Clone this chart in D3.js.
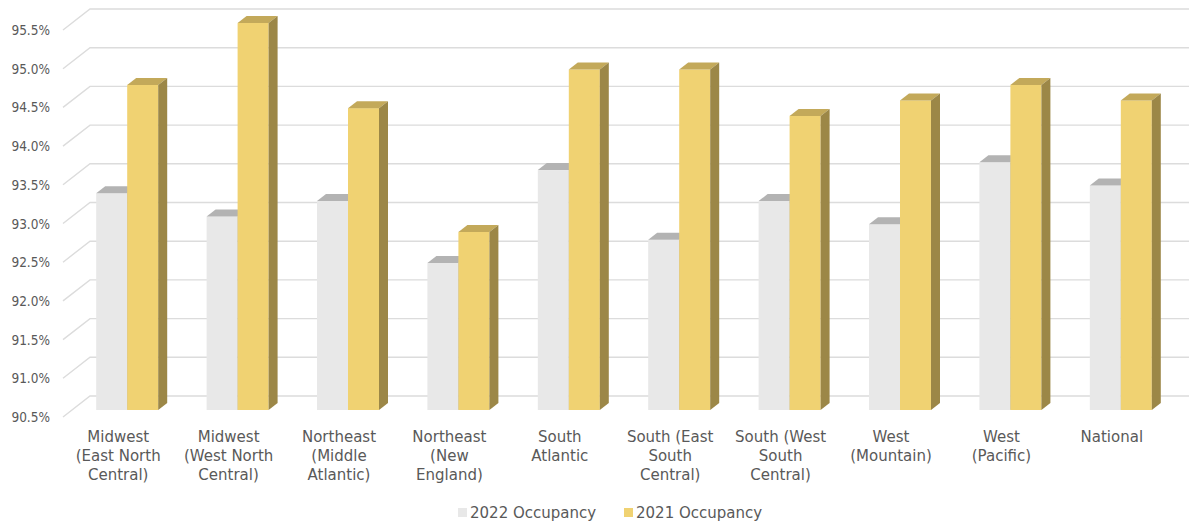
<!DOCTYPE html>
<html>
<head>
<meta charset="utf-8">
<script src="https://cdn.jsdelivr.net/npm/d3@7"></script>
<style>
  body { margin: 0; background: #fff; }
  text { font-family: "DejaVu Sans", sans-serif; fill: #595959; }
</style>
</head>
<body>
<script>
// data
const categories = [
  "Midwest\n(East North\nCentral)",
  "Midwest\n(West North\nCentral)",
  "Northeast\n(Middle\nAtlantic)",
  "Northeast\n(New\nEngland)",
  "South\nAtlantic",
  "South (East\nSouth\nCentral)",
  "South (West\nSouth\nCentral)",
  "West\n(Mountain)",
  "West\n(Pacific)",
  "National"
];
const occ2022 = [93.3, 93.0, 93.2, 92.4, 93.6, 92.7, 93.2, 92.9, 93.7, 93.4];
const occ2021 = [94.7, 95.5, 94.4, 92.8, 94.9, 94.9, 94.3, 94.5, 94.7, 94.5];
const seriesNames = ["2022 Occupancy", "2021 Occupancy"];
const yTicks = [90.5, 91.0, 91.5, 92.0, 92.5, 93.0, 93.5, 94.0, 94.5, 95.0, 95.5];

const W = 1189, H = 523;
const DX = 27, DY = 21; // 3d depth of the floor

const svg = d3.select("body").append("svg").attr("width", W).attr("height", H);

// front plane scales
const x = d3.scaleBand().domain(d3.range(categories.length)).range([63, 63 + 110.4 * categories.length]);
const y = d3.scaleLinear().domain([90.5, 95.5]).range([417, 30]);
const xs = d3.scaleBand().domain([0, 1]).range([0, 62]);

// gridlines (floor slant + back wall)
svg.append("g").selectAll("path").data(yTicks).join("path")
  .attr("d", d => `M63,${y(d)}L${63 + DX},${y(d) - DY}L${W},${y(d) - DY}`)
  .attr("fill", "none").attr("stroke", "#dcdcdc").attr("stroke-width", 1.4);

// y tick labels
svg.append("g").selectAll("text").data(yTicks).join("text")
  .attr("x", 50).attr("y", d => y(d) + 5)
  .attr("text-anchor", "end").style("font-size", "13.5px")
  .style("font-family", "'Liberation Sans Narrow', 'DejaVu Sans Condensed', sans-serif")
  .text(d => d.toFixed(1) + "%");

const colors = [
  { front: "#e8e8e8", top: "#b3b3b3", side: "#b0b0b0" },
  { front: "#f0d272", top: "#c3a95a", side: "#9c8747" }
];
const series = [occ2022, occ2021];

// bars, front face sits 1/3 into the depth
const fx = DX / 3, fy = DY / 3;
const bars = svg.append("g");
categories.forEach((c, i) => {
  const gx = x(i) + x.bandwidth() / 2 - 31 + fx;
  series.forEach((vals, s) => {
    const x0 = gx + xs(s), x1 = x0 + xs.bandwidth();
    const yb = y(90.5) - fy, yt = y(vals[i]) - fy;
    const col = colors[s];
    bars.append("rect").attr("x", x0).attr("y", yt).attr("width", x1 - x0).attr("height", yb - yt)
      .attr("fill", col.front);
    bars.append("polygon")
      .attr("points", [[x0, yt], [x1, yt], [x1 + fx, yt - fy], [x0 + fx, yt - fy]].join(" "))
      .attr("fill", col.top);
    bars.append("polygon")
      .attr("points", [[x1, yt], [x1 + fx, yt - fy], [x1 + fx, yb - fy], [x1, yb]].join(" "))
      .attr("fill", col.side);
  });
});

// category labels
const lab = svg.append("g").selectAll("text").data(categories).join("text")
  .attr("text-anchor", "middle").style("font-size", "15px")
  .attr("transform", (d, i) => `translate(${x(i) + x.bandwidth() / 2},442)`);
lab.selectAll("tspan").data(d => d.split("\n")).join("tspan")
  .attr("x", 0).attr("y", (d, j) => j * 19).text(d => d);

// legend
const legX = [458, 624];
const leg = svg.append("g").selectAll("g").data(seriesNames).join("g")
  .attr("transform", (d, i) => `translate(${legX[i]},508)`);
leg.append("rect").attr("width", 9).attr("height", 9).attr("fill", (d, i) => colors[i].front);
leg.append("text").attr("x", 12).attr("y", 9.5).style("font-size", "15px").text(d => d);
</script>
</body>
</html>
